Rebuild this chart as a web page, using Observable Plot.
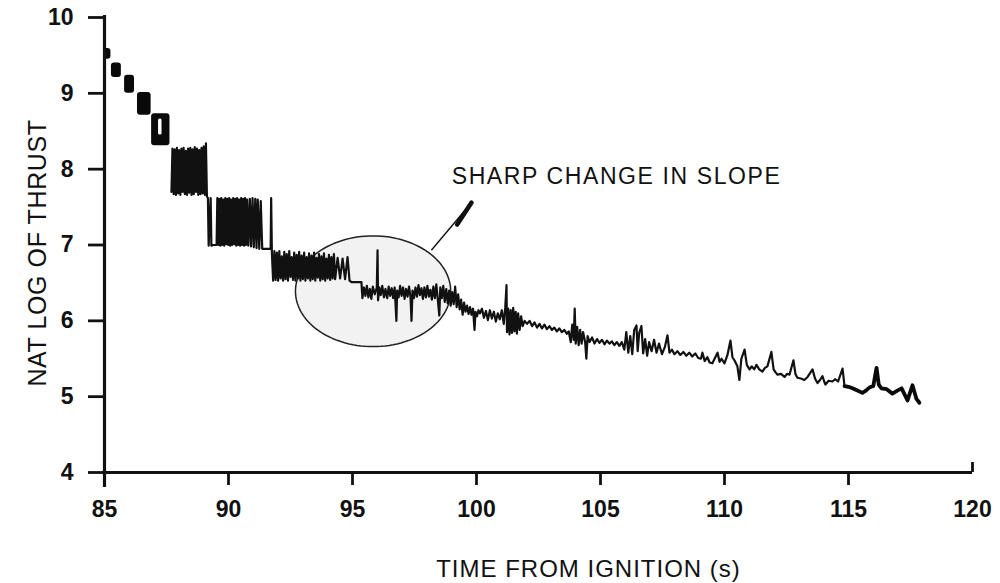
<!DOCTYPE html>
<html>
<head>
<meta charset="utf-8">
<script src="https://cdn.jsdelivr.net/npm/d3@7"></script>
<script src="https://cdn.jsdelivr.net/npm/@observablehq/plot@0.6"></script>
<style>
  html, body { margin: 0; padding: 0; background: #fff; }
  #chart svg { display: block; }
</style>
</head>
<body>
<div id="chart"></div>
<script>
// ---- axis ticks and labels ----
const xTicks = [85, 90, 95, 100, 105, 110, 115, 120];
const yTicks = [4, 5, 6, 7, 8, 9, 10];
const xLabel = ["TIME FROM IGNITION (s)"];
const yLabel = ["NAT LOG OF THRUST"];

// ---- early dense samples (85-87.7 s) shown as solid blobs ----
const blobStart = [84.96, 85.28, 85.81, 86.33, 86.90];
const blobEnd   = [85.26, 85.68, 86.21, 86.88, 87.64];
const blobLow   = [9.45, 9.21, 9.00, 8.71, 8.31];
const blobHigh  = [9.59, 9.40, 9.24, 9.01, 8.73];
const holeStart = [87.18], holeEnd = [87.32], holeLow = [8.45], holeHigh = [8.66];

// ---- main trace (87.7 - 114.84 s) ----
const traceT = [
  87.70,87.74,87.79,87.83,87.88,87.92,87.97,88.01,88.06,88.10,88.15,88.19,88.24,88.28,88.33,88.37,88.42,88.46,88.51,88.55,88.60,88.64,88.69,88.73,88.78,88.82,88.87,88.91,88.96,89.00,89.05,89.09,89.13,
  89.17,89.20,89.28,89.31,89.36,89.52,89.55,89.59,89.63,89.67,89.71,89.75,89.79,89.83,89.87,89.91,89.95,89.99,90.03,90.07,90.11,90.15,90.19,90.23,90.27,90.31,90.35,90.39,90.43,90.47,90.51,90.55,90.59,90.63,90.67,90.71,90.75,90.80,90.86,90.91,90.97,91.02,91.08,91.13,91.18,91.24,91.30,91.36,91.70,91.72,91.75,
  91.80,91.85,91.90,91.95,92.00,92.05,92.10,92.15,92.20,92.25,92.30,92.35,92.40,92.45,92.50,92.55,92.60,92.65,92.70,92.75,92.80,92.85,92.90,92.95,93.00,93.05,93.10,93.15,93.20,93.25,93.30,93.35,93.40,93.45,93.50,93.55,93.60,93.65,93.70,93.75,93.80,93.85,93.90,93.95,94.00,94.05,94.10,94.15,94.20,94.25,94.30,94.40,94.50,94.60,94.70,94.80,94.88,
  94.96,95.36,95.40,95.46,95.52,95.58,95.64,95.70,95.76,95.82,95.90,95.98,96.01,96.03,96.08,96.14,96.20,96.27,96.33,96.40,96.46,96.52,96.58,96.64,96.70,96.77,96.80,96.86,96.92,96.98,97.04,97.10,97.16,97.22,97.28,97.34,97.38,97.42,97.48,97.54,97.60,97.66,97.72,97.78,97.84,97.90,97.96,98.02,98.08,98.14,98.20,98.26,98.32,98.38,98.44,98.50,98.54,98.60,98.66,98.72,98.78,98.84,98.90,98.96,99.02,99.08,99.14,99.20,99.26,99.32,
  99.38,99.44,99.50,99.56,99.62,99.68,99.74,99.80,99.86,99.92,99.96,100.02,100.08,
  100.14,100.22,100.30,100.38,100.46,100.54,100.62,100.70,100.78,100.86,100.94,101.02,101.10,101.16,101.21,101.23,101.28,101.33,101.38,101.43,101.48,101.53,101.58,101.63,101.68,101.74,101.80,101.86,101.94,102.04,102.14,102.24,102.34,102.44,102.54,102.64,102.74,102.84,102.94,103.04,103.14,103.24,103.34,103.44,103.54,103.64,103.72,103.80,103.86,103.92,103.96,104.00,104.06,104.12,104.18,104.24,104.30,104.38,104.43,104.48,104.56,104.66,104.76,104.86,104.96,105.06,105.16,105.26,105.36,105.46,105.56,105.66,105.76,105.86,105.96,106.04,106.12,106.20,106.28,106.36,106.45,106.50,106.56,106.65,106.72,106.80,106.88,106.96,107.06,107.16,107.26,107.36,107.48,107.60,107.70,107.78,107.88,107.98,108.10,108.22,108.34,108.46,108.58,108.70,108.82,108.94,
  109.05,109.11,109.20,109.31,109.40,109.51,109.60,109.72,109.80,109.88,110.00,110.12,110.24,110.32,110.40,110.52,110.60,110.68,110.81,110.90,111.01,111.10,111.20,111.29,111.40,111.53,111.63,111.73,111.89,111.98,112.06,112.14,112.28,112.42,112.52,112.62,112.78,112.86,112.94,113.08,113.22,113.35,113.55,113.65,113.75,113.85,113.95,114.02,114.07,114.20,114.35,114.47,114.58,114.76,114.84
];
const traceV = [
  7.70,8.27,7.67,8.26,7.66,8.28,7.68,8.25,7.66,8.27,7.70,8.28,7.67,8.24,7.66,8.27,7.69,8.28,7.66,8.26,7.67,8.29,7.70,8.27,7.66,8.25,7.67,8.28,7.68,8.30,7.66,8.34,7.64,
  7.62,6.99,7.62,6.99,7.00,7.00,7.62,7.00,7.61,6.99,7.62,7.00,7.60,6.99,7.62,7.01,7.61,7.00,7.62,6.99,7.60,7.00,7.62,7.01,7.61,6.99,7.62,7.00,7.60,6.99,7.62,7.00,7.61,6.99,7.62,7.00,7.60,6.99,7.61,6.98,7.62,6.97,7.61,6.96,7.60,6.95,7.58,6.95,6.95,7.62,6.89,
  6.53,6.92,6.54,6.90,6.53,6.92,6.56,6.85,6.53,6.91,6.55,6.88,6.53,6.92,6.58,6.84,6.54,6.90,6.53,6.87,6.56,6.91,6.53,6.86,6.55,6.90,6.53,6.84,6.56,6.89,6.53,6.86,6.55,6.90,6.53,6.83,6.57,6.88,6.53,6.85,6.55,6.89,6.53,6.82,6.56,6.87,6.54,6.84,6.56,6.88,6.55,6.83,6.56,6.82,6.55,6.84,6.53,
  6.51,6.51,6.30,6.44,6.33,6.46,6.31,6.42,6.29,6.45,6.35,6.44,6.93,6.27,6.44,6.34,6.46,6.31,6.42,6.30,6.45,6.33,6.43,6.30,6.44,6.00,6.40,6.31,6.46,6.33,6.44,6.29,6.42,6.32,6.45,6.31,6.00,6.40,6.30,6.44,6.32,6.47,6.34,6.43,6.29,6.44,6.31,6.46,6.32,6.41,6.28,6.45,6.30,6.48,6.28,6.07,6.44,6.30,6.46,6.25,6.42,6.23,6.40,6.20,6.38,6.22,6.45,6.18,6.35,6.15,
  6.28,6.08,6.24,6.12,6.20,6.09,6.18,6.08,6.16,5.88,6.12,6.06,6.14,
  6.10,6.16,6.04,6.13,6.01,6.14,6.03,6.12,5.99,6.10,6.02,6.14,5.96,6.18,6.47,5.85,6.16,5.82,6.14,5.84,6.17,5.86,6.12,5.83,6.10,5.88,6.06,5.93,6.00,5.96,6.00,5.93,5.98,5.91,5.96,5.90,5.95,5.89,5.93,5.88,5.91,5.86,5.90,5.85,5.88,5.83,5.86,5.72,5.95,5.75,6.16,5.70,5.92,5.68,5.88,5.70,5.85,5.72,5.50,5.80,5.72,5.78,5.70,5.76,5.71,5.75,5.69,5.74,5.70,5.73,5.68,5.72,5.67,5.72,5.62,5.85,5.58,5.80,5.56,5.88,5.94,5.60,5.84,5.93,5.57,5.76,5.54,5.72,5.60,5.75,5.58,5.70,5.56,5.66,5.81,5.58,5.62,5.56,5.60,5.55,5.59,5.54,5.58,5.53,5.57,5.51,
  5.50,5.58,5.47,5.52,5.45,5.44,5.50,5.58,5.46,5.50,5.44,5.55,5.74,5.52,5.48,5.40,5.22,5.50,5.62,5.42,5.36,5.40,5.36,5.42,5.36,5.33,5.38,5.40,5.59,5.36,5.32,5.29,5.30,5.26,5.30,5.29,5.48,5.30,5.25,5.24,5.22,5.26,5.36,5.24,5.18,5.22,5.27,5.20,5.16,5.21,5.20,5.23,5.20,5.37,5.14
];

// ---- final heavy trace (114.84 - 117.86 s) ----
const tailT = [114.84,115.00,115.16,115.36,115.56,115.70,115.84,116.00,116.13,116.22,116.33,116.53,116.77,116.97,117.14,117.38,117.58,117.74,117.86];
const tailV = [5.14,5.13,5.11,5.08,5.05,5.08,5.12,5.14,5.38,5.16,5.11,5.10,5.04,5.08,5.11,4.95,5.15,4.97,4.92];

// ---- annotation ----
const noteText = ["SHARP CHANGE IN SLOPE"];
const noteT = [99.0], noteV = [7.90];
const arrowFromT = [98.18], arrowFromV = [6.93], arrowToT = [99.80], arrowToV = [7.56];
const arrowHeadT = [99.22], arrowHeadV = [7.27];
const ovalCenterT = 95.83, ovalCenterV = 6.39, ovalRadiusT = 3.13, ovalRadiusV = 0.73;

// ---- build tables ----
const blobs = blobStart.map((d, i) => ({t1: d, t2: blobEnd[i], lo: blobLow[i], hi: blobHigh[i]}));
const holes = holeStart.map((d, i) => ({t1: d, t2: holeEnd[i], lo: holeLow[i], hi: holeHigh[i]}));
const trace = traceT.map((t, i) => ({t, v: traceV[i]}));
const tail = tailT.map((t, i) => ({t, v: tailV[i]}));
const notes = noteText.map((s, i) => ({s, t: noteT[i], v: noteV[i]}));
const arrows = arrowFromT.map((d, i) => ({t1: d, v1: arrowFromV[i], t2: arrowToT[i], v2: arrowToV[i], th: arrowHeadT[i], vh: arrowHeadV[i]}));
const angles = d3.range(0, 361, 3).map(a => a * Math.PI / 180);
const ovalOutline = angles.map(a => ({t: ovalCenterT + ovalRadiusT * Math.cos(a), v: ovalCenterV + ovalRadiusV * Math.sin(a)}));
const ovalFill = d3.range(0, 181, 3).map(a => a * Math.PI / 180).map(a => ({
  t: ovalCenterT + ovalRadiusT * Math.cos(a),
  lo: ovalCenterV - ovalRadiusV * Math.sin(a),
  hi: ovalCenterV + ovalRadiusV * Math.sin(a)
}));

const font = "'Liberation Sans', Arial, Helvetica, sans-serif";
const ink = "#111";

const chart = Plot.plot({
  width: 1000,
  height: 583,
  marginLeft: 104,
  marginRight: 28,
  marginTop: 17,
  marginBottom: 111,
  style: {fontFamily: font, fontSize: "23px", fontWeight: "bold", background: "#fff", color: ink},
  x: {domain: [85, 120], ticks: xTicks, tickSize: 0, tickPadding: 28, label: null, tickFormat: d => String(d)},
  y: {domain: [4, 10], ticks: yTicks, tickSize: 0, tickPadding: 31, label: null, tickFormat: d => String(d)},
  marks: [
    Plot.areaY(ovalFill, {x: "t", y1: "lo", y2: "hi", fill: "#f2f2f2"}),
    Plot.line(ovalOutline, {x: "t", y: "v", stroke: "#222", strokeWidth: 1.5}),
    Plot.link(arrows, {x1: "t1", y1: "v1", x2: "t2", y2: "v2", stroke: ink, strokeWidth: 1.4}),
    Plot.link(arrows, {x1: "th", y1: "vh", x2: "t2", y2: "v2", stroke: ink, strokeWidth: 4.5, strokeLinecap: "round"}),
    Plot.rect(blobs, {x1: "t1", x2: "t2", y1: "lo", y2: "hi", fill: "#0a0a0a", rx: 3}),
    Plot.rect(holes, {x1: "t1", x2: "t2", y1: "lo", y2: "hi", fill: "#fff", rx: 1.5}),
    Plot.line(trace, {x: "t", y: "v", stroke: ink, strokeWidth: 2.2}),
    Plot.line(tail, {x: "t", y: "v", stroke: "#0a0a0a", strokeWidth: 3.8}),
    // axis lines and tick marks
    Plot.ruleX([85], {stroke: ink, strokeWidth: 3.2, insetBottom: -15, insetTop: -2}),
    Plot.ruleY([4], {stroke: ink, strokeWidth: 3.2, insetLeft: -2}),
    Plot.ruleX(xTicks.slice(0, -1), {y1: 4, y2: 4, insetBottom: -13, stroke: ink, strokeWidth: 2.8}),
    Plot.ruleX(xTicks.slice(-1), {y1: 4, y2: 4, insetTop: -10, stroke: ink, strokeWidth: 2.8}),
    Plot.ruleY(yTicks, {x1: 85, x2: 85, insetLeft: -16, stroke: ink, strokeWidth: 2.8}),
    // texts
    Plot.text(notes, {x: "t", y: "v", text: "s", textAnchor: "start", fontSize: 23, fontWeight: "normal", fill: ink}),
    Plot.text(yLabel, {text: d => d, frameAnchor: "left", textAnchor: "middle", lineAnchor: "middle", rotate: -90, dx: -67, dy: 8, fontSize: 25, fontWeight: "normal", fill: ink}),
    Plot.text(xLabel, {text: d => d, frameAnchor: "bottom", textAnchor: "middle", lineAnchor: "middle", dx: 50, dy: 97, fontSize: 24, fontWeight: "normal", fill: ink})
  ]
});
// letter spacing for the typewritten-looking labels
const spacing = new Map([[noteText[0], "1.6px"], [xLabel[0], "1px"], [yLabel[0], "0.6px"]]);
d3.select(chart).selectAll("text").each(function () {
  const s = spacing.get(this.textContent);
  if (s) this.style.letterSpacing = s;
});
document.getElementById("chart").appendChild(chart);
</script>
</body>
</html>
